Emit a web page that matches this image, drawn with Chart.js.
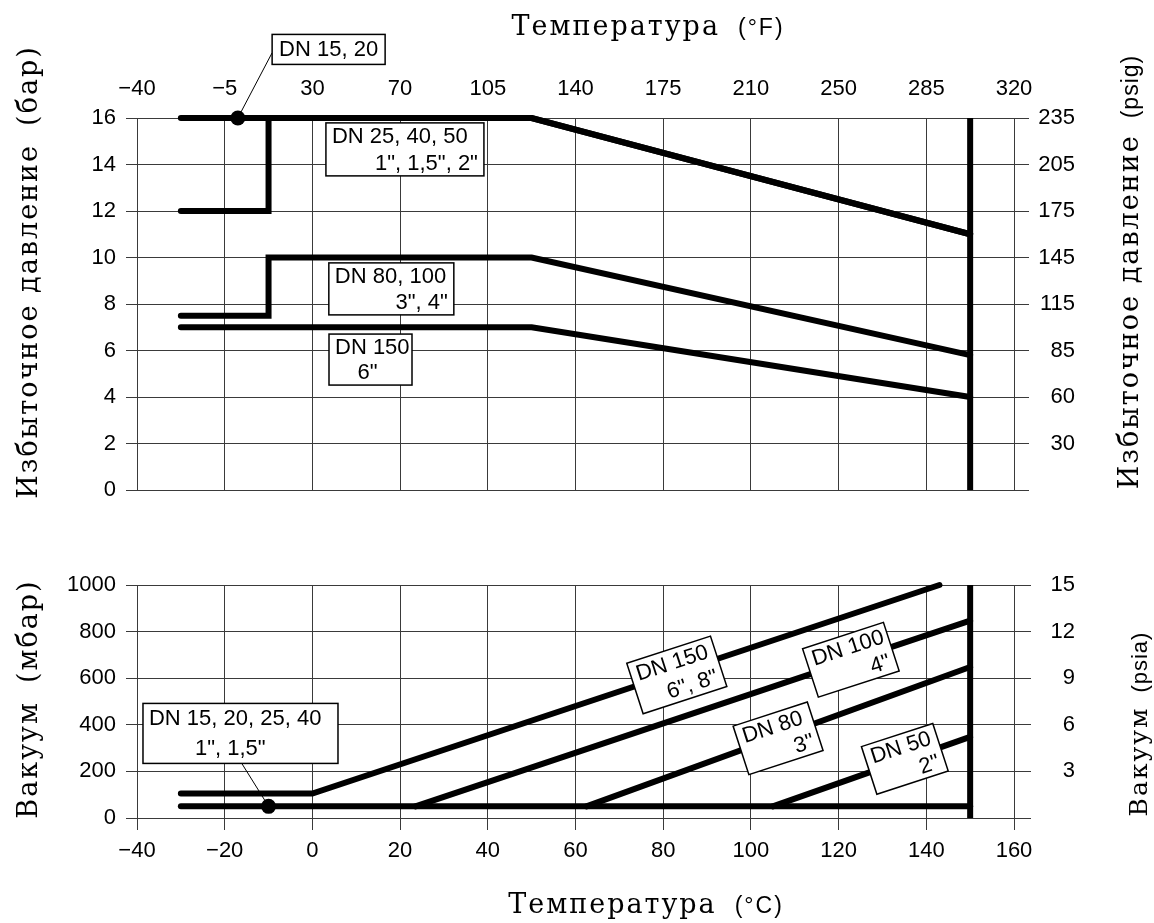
<!DOCTYPE html>
<html>
<head>
<meta charset="utf-8">
<script src="https://cdn.jsdelivr.net/npm/chart.js@4"></script>
<style>
body { margin: 0; background: #fff; }
#top { position: absolute; left: 0; top: 0; }
#bottom { position: absolute; left: 0; top: 530px; }
</style>
</head>
<body>
<canvas id="top" width="1154" height="530"></canvas>
<canvas id="bottom" width="1154" height="393"></canvas>
<script>
// temperature axis: °C grid, °F relabel on top
const tempTicksC = [-40, -20, 0, 20, 40, 60, 80, 100, 120, 140, 160];
const tempTicksF = ['-40', '-5', '30', '70', '105', '140', '175', '210', '250', '285', '320'];

// gauge pressure, bar / psig
const barTicks = [0, 2, 4, 6, 8, 10, 12, 14, 16];
const psigTicks = ['', '30', '60', '85', '115', '145', '175', '205', '235'];

// vacuum, mbar / psia
const mbarTicks = [0, 200, 400, 600, 800, 1000];
const psiaTicks = ['', '3', '6', '9', '12', '15'];

// top chart: pressure limits (bar) vs temperature (°C)
const dn1520T = [-30, 50, 150];
const dn1520P = [16, 16, 11];
const dn2550T = [-30, -10, -10, 50, 150];
const dn2550P = [12, 12, 16, 16, 11];
const dn80100T = [-30, -10, -10, 50, 150];
const dn80100P = [7.5, 7.5, 10, 10, 5.8];
const dn150T = [-30, 50, 150];
const dn150P = [7, 7, 4];
const limitTopT = [150, 150];
const limitTopP = [0, 16];
const markTopT = [-17];
const markTopP = [16];

// bottom chart: vacuum limits (mbar) vs temperature (°C)
const vacSmallT = [-30, 150];
const vacSmallP = [50, 50];
const vac150T = [-30, 0, 143];
const vac150P = [105, 105, 1000];
const vac100T = [23.5, 150];
const vac100P = [50, 847];
const vac80T = [62.5, 150];
const vac80P = [50, 648];
const vac50T = [105, 150];
const vac50P = [50, 348];
const limitBotT = [150, 150];
const limitBotP = [0, 1000];
const markBotT = [-10];
const markBotP = [50];

const gridColor = '#3a3a3a';
const tickFont = { family: '"Liberation Sans", sans-serif', size: 22 };
const serif = '"DejaVu Serif", serif';
const sans = '"Liberation Sans", sans-serif';

function pts(xs, ys) {
  return xs.map((x, i) => ({ x: x, y: ys[i] }));
}
function line(xs, ys, cap) {
  return {
    data: pts(xs, ys), showLine: true, borderColor: '#000', borderWidth: 6, clip: false,
    pointRadius: 0, borderCapStyle: cap || 'round', borderJoinStyle: 'miter'
  };
}
function dot(xs, ys) {
  return { data: pts(xs, ys), showLine: false, clip: false, pointRadius: 7.5, backgroundColor: '#000', borderWidth: 0 };
}
function minus(s) {
  return String(s).replace('-', '\u2212');
}

// boxes, leader lines and axis titles
const notesPlugin = {
  id: 'notes',
  afterDatasetsDraw(chart, args, opts) {
    const ctx = chart.ctx, xs = chart.scales.x, ys = chart.scales.y;
    ctx.save();
    (opts.leaders || []).forEach(l => {
      ctx.beginPath();
      ctx.lineWidth = 1;
      ctx.strokeStyle = '#000';
      ctx.moveTo(xs.getPixelForValue(l.from[0]), ys.getPixelForValue(l.from[1]));
      ctx.lineTo(xs.getPixelForValue(l.to[0]), ys.getPixelForValue(l.to[1]));
      ctx.stroke();
    });
    (opts.boxes || []).forEach(b => {
      ctx.save();
      ctx.translate(xs.getPixelForValue(b.x), ys.getPixelForValue(b.y));
      ctx.rotate((b.angle || 0) * Math.PI / 180);
      ctx.fillStyle = '#fff';
      ctx.fillRect(-b.w / 2, -b.h / 2, b.w, b.h);
      ctx.lineWidth = 1.5;
      ctx.strokeStyle = '#000';
      ctx.strokeRect(-b.w / 2, -b.h / 2, b.w, b.h);
      ctx.fillStyle = '#000';
      ctx.font = '22px ' + sans;
      ctx.textBaseline = 'middle';
      b.lines.forEach((ln, i) => {
        const ly = -b.h / 2 + b.h * (i + 0.5) / b.lines.length + 1;
        let lx;
        if (ln.a === 'r') { ctx.textAlign = 'right'; lx = b.w / 2 - 6; }
        else if (ln.a === 'c') { ctx.textAlign = 'center'; lx = ln.dx || 0; }
        else { ctx.textAlign = 'left'; lx = -b.w / 2 + 6 + (ln.dx || 0); }
        ctx.fillText(ln.t, lx, ly);
      });
      ctx.restore();
    });
    ctx.restore();
  },
  afterDraw(chart, args, opts) {
    const ctx = chart.ctx;
    (opts.titles || []).forEach(tt => {
      ctx.save();
      ctx.fillStyle = '#000';
      ctx.textBaseline = 'alphabetic';
      ctx.textAlign = 'left';
      let total = 0;
      const widths = tt.parts.map(p => {
        ctx.font = p.font;
        ctx.letterSpacing = p.ls || '0px';
        const w = ctx.measureText(p.t).width;
        total += w + (p.gap || 0);
        return w;
      });
      ctx.translate(tt.x, tt.y);
      if (tt.rot) ctx.rotate(-Math.PI / 2);
      let pos = -total / 2;
      tt.parts.forEach((p, i) => {
        ctx.font = p.font;
        ctx.letterSpacing = p.ls || '0px';
        ctx.fillText(p.t, pos, 0);
        pos += widths[i] + (p.gap || 0);
      });
      ctx.restore();
    });
  }
};

function valueScale(ticks, labels, tickOpts, extra) {
  return Object.assign({
    afterBuildTicks: s => { s.ticks = ticks.map(v => ({ value: v })); },
    ticks: Object.assign({
      color: '#000', font: tickFont, autoSkip: false, maxRotation: 0,
      callback: v => labels ? labels[ticks.indexOf(v)] : minus(v)
    }, tickOpts),
    border: { color: gridColor }
  }, extra);
}

const serifBig = '27px ' + serif;
const sansUnit = '23px ' + sans;

new Chart(document.getElementById('top'), {
  type: 'scatter',
  data: {
    datasets: [
      line(dn1520T, dn1520P),
      line(dn2550T, dn2550P),
      line(dn80100T, dn80100P),
      line(dn150T, dn150P),
      line(limitTopT, limitTopP, 'butt'),
      dot(markTopT, markTopP)
    ]
  },
  options: {
    responsive: false,
    animation: false,
    layout: { padding: { left: 50, right: 79, top: 0, bottom: 40 } },
    plugins: {
      legend: { display: false },
      tooltip: { enabled: false },
      notes: {
        leaders: [{ from: [-17, 16], to: [-9.2, 18.8] }],
        boxes: [
          { x: 3.7, y: 18.95, w: 113, h: 30, lines: [{ t: 'DN 15, 20', a: 'c' }] },
          { x: 21.1, y: 14.65, w: 158, h: 53, lines: [{ t: 'DN 25, 40, 50', a: 'l' }, { t: '1", 1,5", 2"', a: 'r' }] },
          { x: 18.0, y: 8.65, w: 125, h: 52, lines: [{ t: 'DN 80, 100', a: 'l' }, { t: '3", 4"', a: 'r' }] },
          { x: 13.25, y: 5.61, w: 83, h: 51, lines: [{ t: 'DN 150', a: 'l' }, { t: '6"', a: 'c', dx: -3 }] }
        ],
        titles: [
          { x: 648, y: 35, parts: [{ t: 'Температура', font: serifBig, ls: '2px', gap: 18 }, { t: '(°F)', font: sansUnit, ls: '2px' }] },
          { x: 37, y: 272, rot: true, parts: [{ t: 'Избыточное давление', font: serifBig, ls: '2px', gap: 18 }, { t: '(бар)', font: serifBig, ls: '2px' }] },
          { x: 1138, y: 272, rot: true, parts: [{ t: 'Избыточное давление', font: serifBig, ls: '2px', gap: 16 }, { t: '(psig)', font: sansUnit, ls: '1px' }] }
        ]
      }
    },
    scales: {
      x: valueScale(tempTicksC, tempTicksF.map(minus), { padding: 16 }, {
        type: 'linear', position: 'top', min: -40, max: 160,
        grid: { color: gridColor, drawTicks: false },
        afterFit: s => { s.height = 118; }
      }),
      y: valueScale(barTicks, null, { padding: 10 }, {
        min: 0, max: 16,
        grid: { color: gridColor, tickLength: 11 },
        afterFit: s => { s.width = 87; }
      }),
      y2: valueScale(barTicks, psigTicks, { crossAlign: 'far' }, {
        position: 'right', min: 0, max: 16,
        grid: { color: gridColor, tickLength: 15, drawOnChartArea: false },
        afterFit: s => { s.width = 61; }
      })
    }
  },
  plugins: [notesPlugin]
});

new Chart(document.getElementById('bottom'), {
  type: 'scatter',
  data: {
    datasets: [
      line(vacSmallT, vacSmallP),
      line(vac150T, vac150P),
      line(vac100T, vac100P),
      line(vac80T, vac80P),
      line(vac50T, vac50P),
      line(limitBotT, limitBotP, 'butt'),
      dot(markBotT, markBotP)
    ]
  },
  options: {
    responsive: false,
    animation: false,
    layout: { padding: { left: 50, right: 79, top: 55, bottom: 55 } },
    plugins: {
      legend: { display: false },
      tooltip: { enabled: false },
      notes: {
        leaders: [{ from: [-10, 50], to: [-16.1, 234] }],
        boxes: [
          { x: -16.4, y: 363, w: 195, h: 60, lines: [{ t: 'DN 15, 20, 25, 40', a: 'l' }, { t: '1", 1,5"', a: 'l', dx: 46 }] },
          { x: 83.1, y: 614, w: 88, h: 53, angle: -18, lines: [{ t: 'DN 150', a: 'l' }, { t: '6", 8"', a: 'r' }] },
          { x: 122.8, y: 679, w: 85, h: 51, angle: -18, lines: [{ t: 'DN 100', a: 'l' }, { t: '4"', a: 'r' }] },
          { x: 106.2, y: 342, w: 78, h: 51, angle: -18, lines: [{ t: 'DN 80', a: 'l' }, { t: '3"', a: 'r' }] },
          { x: 135.1, y: 254, w: 75, h: 50, angle: -18, lines: [{ t: 'DN 50', a: 'l' }, { t: '2"', a: 'r' }] }
        ],
        titles: [
          { x: 646, y: 383, parts: [{ t: 'Температура', font: serifBig, ls: '2px', gap: 18 }, { t: '(°C)', font: sansUnit, ls: '2px' }] },
          { x: 37, y: 169, rot: true, parts: [{ t: 'Вакуум', font: serifBig, ls: '2px', gap: 18 }, { t: '(мбар)', font: serifBig, ls: '2px' }] },
          { x: 1147, y: 194, rot: true, parts: [{ t: 'Вакуум', font: '25px ' + serif, ls: '2px', gap: 14 }, { t: '(psia)', font: '22px ' + sans, ls: '1px' }] }
        ]
      }
    },
    scales: {
      x: valueScale(tempTicksC, null, { padding: 8 }, {
        type: 'linear', position: 'bottom', min: -40, max: 160,
        grid: { color: gridColor, tickLength: 12 },
        afterFit: s => { s.height = 50; }
      }),
      y: valueScale(mbarTicks, null, { padding: 10 }, {
        min: 0, max: 1000,
        grid: { color: gridColor, tickLength: 11 },
        afterFit: s => { s.width = 87; }
      }),
      y2: valueScale(mbarTicks, psiaTicks, { crossAlign: 'far' }, {
        position: 'right', min: 0, max: 1000,
        grid: { color: gridColor, tickLength: 17, drawOnChartArea: false },
        afterFit: s => { s.width = 61; }
      })
    }
  },
  plugins: [notesPlugin]
});
</script>
</body>
</html>
